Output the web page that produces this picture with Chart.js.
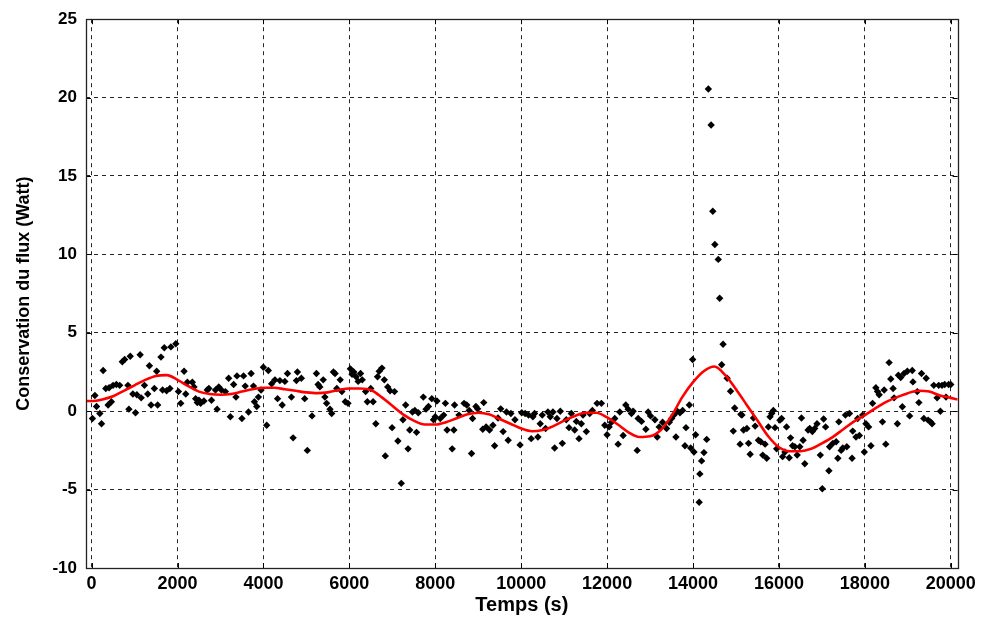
<!DOCTYPE html>
<html><head><meta charset="utf-8">
<script src="https://cdn.jsdelivr.net/npm/chart.js@4.4.0/dist/chart.umd.min.js"></script>
<style>html,body{margin:0;padding:0;background:#fff;}#wrap{width:981px;height:619px;}</style>
</head><body><div id="wrap"><canvas id="c" width="981" height="619"></canvas></div>
<script>
// Measured points: time (s)
const timeS = [
20,77,115,192,231,269,331,385,408,461,500,577,654,715,769,846,869,900,961,1023,1054,1130,1154,1230,1307,1346,1384,1461,1515,1538,1615,1653,1692,1746,1823,1846,1961,2022,2076,2153,2192,2230,2345,2384,2422,2461,2499,2538,2615,2692,2730,2791,2884,2922,2961,3022,3114,3191,3230,3307,3361,3384,3499,3537,3576,3653,3714,3768,3791,3845,3883,3945,3999,4076,4114,4191,4268,4329,4383,4437,4499,4560,4652,4691,4768,4791,4883,4960,5022,
5131,5234,5273,5313,5392,5431,5471,5550,5589,5629,5668,5708,5787,5826,5905,5968,6024,6063,6103,6158,6205,6261,6300,6379,6419,6498,6553,6616,6656,6695,6758,6814,6837,6893,6948,6995,7051,7130,7209,7248,7311,7367,7406,7469,7525,7564,7604,7722,7785,7841,7920,7959,7999,8038,8117,8196,8236,8275,8394,8433,8449,8552,8670,8733,8789,8844,8868,8947,8986,9105,9128,9184,9263,9342,9381,9460,9523,9579,9658,9697,9760,9855,9974,10013,10092,10171,
10233,10272,10311,10389,10443,10490,10568,10622,10677,10739,10778,10832,10910,10957,11050,11113,11167,11245,11284,11346,11400,11439,11517,11595,11657,11766,11867,11945,11999,12046,12101,12178,12256,12295,12373,12435,12490,12567,12606,12700,12723,12801,12902,12956,13011,13112,13166,13213,13291,13384,13447,13501,13556,13602,13633,13696,13758,13812,13836,13914,13945,13991,14022,
14060,14143,14159,14199,14254,14318,14357,14421,14460,14508,14587,14620,14667,14699,14794,14873,14937,14969,15096,15112,
15138,15176,15253,15292,15330,15407,15446,15523,15577,15623,15677,15715,15754,15792,15831,15869,15908,15946,16023,16062,16085,16139,16177,16239,16270,16316,16370,16424,16485,16524,16562,16601,16678,16716,16778,16832,16886,16963,17009,17040,17086,17163,17178,17255,17332,17371,17394,17448,17486,17548,17579,17640,17702,17717,17794,17833,17871,17948,17987,18025,18087,18141,18179,18256,18295,18333,18410,18449,18487,18564,18603,18657,18680,18757,18780,18834,18872,18911,18988,19042,19103,19119,19219,19257,19319,19373,19427,19473,19527,19565,19604,19681,19719,19758,19796,19858,19889,19950,20000
];
// Measured points: flux conservation (W)
const fluxW = [
-0.47,1.0,0.3,-0.15,-0.8,2.6,1.45,0.4,1.5,0.6,1.65,1.7,1.65,3.15,3.3,1.65,0.13,3.5,1.1,-0.1,1.05,3.6,0.85,1.65,1.1,2.9,0.4,1.45,2.55,0.4,3.45,1.35,4.05,1.3,1.45,4.1,4.3,1.25,0.5,2.55,1.1,1.85,1.85,1.55,0.8,0.55,0.7,0.5,0.65,1.35,1.45,0.7,1.35,0.13,1.55,1.35,1.25,2.1,-0.35,1.7,0.9,2.25,-0.47,2.25,1.6,-0.05,2.4,1.6,0.6,0.3,0.9,1.35,2.8,-0.9,2.6,1.75,2.0,0.8,1.95,0.4,1.9,2.4,0.9,-1.7,1.95,2.5,2.1,0.8,-2.5,
-0.3,2.4,1.7,1.55,2.0,0.9,0.5,0.13,-0.15,2.5,2.4,1.45,2.0,1.25,0.6,0.5,2.7,2.35,2.5,2.2,1.9,2.4,2.0,1.25,0.6,1.45,0.6,-0.8,2.2,2.55,2.75,2.0,-2.85,1.55,1.3,-1.05,1.25,-1.9,-4.6,-0.55,0.4,-2.4,-1.2,-0.05,0.05,-1.35,-0.1,0.9,0.13,0.3,0.8,-0.55,-0.35,0.65,-0.47,-0.25,0.5,-1.2,-2.4,-1.2,0.4,-0.25,0.5,0.4,0.05,-2.7,-0.47,0.3,0.15,-1.15,0.55,-1.0,-1.2,-0.9,-2.2,-0.43,0.15,-1.3,-0.05,-1.85,-0.15,-0.55,-2.15,-0.1,-0.15,-0.25,
-1.75,-0.35,-0.15,-1.65,-0.8,-0.25,-1.1,-0.05,-0.35,-0.05,-2.35,-0.47,0,-2.05,-0.55,-1.05,-0.15,-1.2,-0.65,-1.75,-0.8,-0.25,-1.3,-0.15,0.05,0.5,0.5,-0.9,-1.5,-1.0,-0.7,-0.47,-2.1,-0.05,-1.55,0.4,0.13,-0.15,0,-2.5,-0.47,-0.65,-1.15,-0.05,-0.3,-0.55,-1.65,-1.0,-0.7,-1.1,-0.7,-0.47,-0.25,-1.65,0,-0.1,0.05,-2.2,-1.05,0.4,-2.35,3.3,-2.6,
-1.5,-5.81,-4.0,-3.17,-2.64,-1.8,20.55,18.25,12.75,10.63,9.68,7.2,2.96,4.27,2.1,1.27,-1.27,0.2,-2.1,-0.2,
-0.25,-1.2,-1.1,-2.05,-2.75,-0.43,-0.95,-1.85,-1.95,-2.8,-2.1,-3.0,-1.0,-0.36,-0.15,0.05,-1.05,-2.4,-0.57,-0.47,-2.9,-2.6,-1.0,-2.97,-1.7,-2.2,-2.27,-2.8,-2.27,-0.43,-1.85,-3.35,-1.2,-1.1,-1.3,-1.1,-0.8,-2.8,-4.95,-0.5,-1.0,-3.8,-2.27,-2.05,-1.95,-3.0,-0.68,-2.5,-2.35,-0.25,-2.27,-0.15,-3.0,-1.27,-1.65,-0.47,-1.55,-0.25,-2.6,-0.8,-1.0,-2.2,0.5,1.5,1.25,1.05,-0.68,1.35,-2.1,3.1,2.05,1.45,0.85,-0.8,2.3,2.15,0.28,2.4,2.55,-0.3,2.6,1.87,1.25,0.55,2.4,-0.47,2.1,-0.57,-0.68,-0.8,1.65,0.85,1.65,0,1.65,1.7,0.9,1.7,1.7
];
// Smoothed fit curve (red)
const fitTimeS = [-130,0,250,500,750,1000,1250,1500,1750,2000,2250,2500,2750,3000,3250,3500,3750,4000,4250,4500,4750,5000,5250,5500,5750,6000,6250,6500,6750,7000,7250,7500,7750,8000,8250,8500,8750,9000,9250,9500,9750,10000,10250,10500,10750,11000,11250,11500,11750,12000,12250,12500,12750,13000,13250,13500,13750,14000,14250,14500,14750,15000,15250,15500,15750,16000,16250,16500,16750,17000,17250,17500,17750,18000,18250,18500,18750,19000,19250,19500,19750,20000,20160];
const fitFluxW = [0.65,0.65,0.75,0.95,1.3,1.65,2.0,2.25,2.3,2.0,1.6,1.25,1.1,1.05,1.1,1.25,1.4,1.5,1.5,1.4,1.3,1.2,1.15,1.2,1.35,1.45,1.45,1.35,0.9,0.35,-0.2,-0.6,-0.85,-0.85,-0.7,-0.45,-0.2,-0.1,-0.2,-0.5,-0.8,-1.1,-1.28,-1.2,-0.95,-0.6,-0.3,-0.1,-0.1,-0.4,-0.85,-1.35,-1.65,-1.6,-1.2,-0.3,0.9,1.85,2.55,2.85,2.3,1.4,0.4,-0.6,-1.6,-2.3,-2.55,-2.55,-2.4,-2.05,-1.65,-1.15,-0.65,-0.25,0.2,0.6,0.9,1.15,1.3,1.25,1.0,0.85,0.75];

const xTickValues = [0,2000,4000,6000,8000,10000,12000,14000,16000,18000,20000];
const yTickValues = [-10,-5,0,5,10,15,20,25];
const xRange = [-130, 20160];
const yRange = [-10, 25];
const xTitle = 'Temps (s)';
const yTitle = 'Conservation du flux (Watt)';

const n = Math.min(timeS.length, fluxW.length);
const scatterData = [];
for (let i = 0; i < n; i++) scatterData.push({x: timeS[i], y: fluxW[i]});
const fitData = fitTimeS.map((t, i) => ({x: t, y: fitFluxW[i]}));

const fam = "'Liberation Sans',Arial,sans-serif";
const framePlugin = {
  id: 'frame',
  afterDraw(chart) {
    const {ctx, chartArea: a, scales} = chart;
    ctx.save();
    ctx.setLineDash([]);
    ctx.strokeStyle = '#000';
    ctx.lineWidth = 1;
    ctx.beginPath();
    scales.x.ticks.forEach(t => {
      const px = Math.round(scales.x.getPixelForValue(t.value)) + 0.5;
      ctx.moveTo(px, a.bottom); ctx.lineTo(px, a.bottom - 5);
      ctx.moveTo(px, a.top); ctx.lineTo(px, a.top + 5);
    });
    scales.y.ticks.forEach(t => {
      const py = Math.round(scales.y.getPixelForValue(t.value)) + 0.5;
      ctx.moveTo(a.left, py); ctx.lineTo(a.left + 5, py);
      ctx.moveTo(a.right, py); ctx.lineTo(a.right - 5, py);
    });
    ctx.stroke();
    ctx.lineWidth = 1.3;
    ctx.strokeStyle = '#222';
    ctx.strokeRect(Math.round(a.left) + 0.5, Math.round(a.top) + 0.5, Math.round(a.right - a.left), Math.round(a.bottom - a.top));
    ctx.restore();
  }
};

new Chart(document.getElementById('c'), {
  type: 'scatter',
  data: {
    datasets: [
      {type: 'line', label: 'fit', data: fitData, borderColor: '#ff0000', borderWidth: 2.6, pointRadius: 0, fill: false, cubicInterpolationMode: 'monotone'},
      {type: 'scatter', label: 'mesures', data: scatterData, pointStyle: 'rectRot', pointRadius: 3.7, backgroundColor: '#000', borderColor: '#000', borderWidth: 0}
    ]
  },
  options: {
    responsive: false,
    animation: false,
    devicePixelRatio: 1,
    layout: {padding: {left: 0, right: 23, top: 16, bottom: 0}},
    plugins: {legend: {display: false}, tooltip: {enabled: false}},
    scales: {
      x: {
        type: 'linear', min: xRange[0], max: xRange[1],
        afterBuildTicks(s) { s.ticks = xTickValues.map(v => ({value: v})); },
        ticks: {font: {family: fam, size: 18, weight: 'bold'}, color: '#000', padding: 5, maxRotation: 0, autoSkip: false, callback: v => String(v)},
        grid: {color: 'rgba(0,0,0,0.85)', lineWidth: 1, drawTicks: false},
        border: {display: false, dash: [4, 4]},
        title: {display: true, text: xTitle, font: {family: fam, size: 20, weight: 'bold'}, color: '#000', padding: {top: 0, bottom: 2}},
        afterFit(s) { s.height = 51; }
      },
      y: {
        type: 'linear', min: yRange[0], max: yRange[1],
        afterBuildTicks(s) { s.ticks = yTickValues.map(v => ({value: v})); },
        ticks: {font: {family: fam, size: 17, weight: 'bold'}, color: '#000', padding: 9, callback: v => String(v)},
        grid: {color: 'rgba(0,0,0,0.85)', lineWidth: 1, drawTicks: false},
        border: {display: false, dash: [4, 4]},
        title: {display: true, text: yTitle, font: {family: fam, size: 18, weight: 'bold'}, color: '#000', padding: {top: 13, bottom: 0}},
        afterFit(s) { s.width = 86; }
      }
    }
  },
  plugins: [framePlugin]
});
</script>
</body></html>
